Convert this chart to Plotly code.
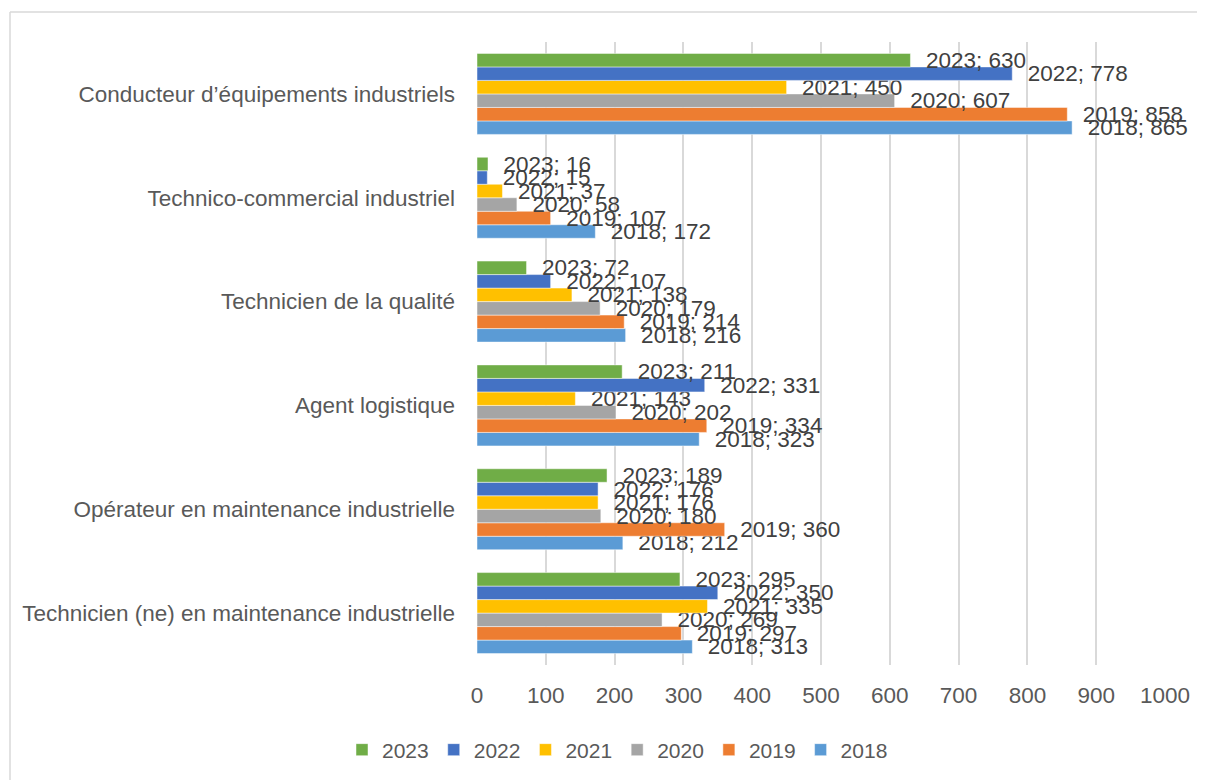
import plotly.graph_objects as go

categories = [
    "Conducteur d’équipements industriels",
    "Technico-commercial industriel",
    "Technicien de la qualité",
    "Agent logistique",
    "Opérateur en maintenance industrielle",
    "Technicien (ne) en maintenance industrielle",
]
years = ["2018", "2019", "2020", "2021", "2022", "2023"]
values = {
    "2023": [630, 16, 72, 211, 189, 295],
    "2022": [778, 15, 107, 331, 176, 350],
    "2021": [450, 37, 138, 143, 176, 335],
    "2020": [607, 58, 179, 202, 180, 269],
    "2019": [858, 107, 214, 334, 360, 297],
    "2018": [865, 172, 216, 323, 212, 313],
}
colors = {
    "2023": "#70AD47",
    "2022": "#4472C4",
    "2021": "#FFC000",
    "2020": "#A5A5A5",
    "2019": "#ED7D31",
    "2018": "#5B9BD5",
}
x_ticks = [0, 100, 200, 300, 400, 500, 600, 700, 800, 900, 1000]

FONT = "Liberation Sans"
FS = 22.5
# page body has an 8px default margin; figure is sized/offset to compensate
OFF = 8
W, H = 1205 - OFF, 780 - OFF
L, T = 477 - OFF, 42 - OFF
pw, ph = 688, 623
R = W - L - pw
B = H - T - ph

fig = go.Figure()
for yr in years:
    fig.add_trace(go.Bar(
        name=yr,
        y=categories,
        x=values[yr],
        orientation="h",
        marker=dict(color=colors[yr], line=dict(color="rgba(255,255,255,0.6)", width=0.8)),
        text=[f"\u00a0\u00a0{yr}; {v}" for v in values[yr]],
        textposition="outside",
        textfont=dict(family=FONT, size=FS, color="#404040"),
        constraintext="none",
        cliponaxis=False,
        hoverinfo="skip",
    ))


def px_x(p):
    # p in page pixels
    return (p - OFF - L) / pw


def px_y(p):
    return (T + ph - (p - OFF)) / ph


fig.update_layout(
    width=W, height=H,
    margin=dict(l=L, r=R, t=T, b=B, autoexpand=False),
    barmode="group",
    bargap=0.22,
    bargroupgap=0,
    plot_bgcolor="white",
    paper_bgcolor="white",
    font=dict(family=FONT, size=FS, color="#595959"),
    showlegend=True,
    legend=dict(
        orientation="h",
        traceorder="reversed",
        x=px_x(342), xanchor="left",
        y=px_y(750), yanchor="middle",
        font=dict(family=FONT, size=21, color="#595959"),
        itemwidth=30,
        bgcolor="rgba(0,0,0,0)",
    ),
    xaxis=dict(
        range=[0, 1000],
        tickvals=x_ticks,
        ticktext=[str(v) for v in x_ticks],
        showgrid=True,
        gridcolor="#D9D9D9",
        gridwidth=1.5,
        zeroline=False,
        showline=False,
        ticks="",
        ticklabelstandoff=14,
        tickfont=dict(family=FONT, size=FS, color="#595959"),
        fixedrange=True,
    ),
    yaxis=dict(
        categoryorder="array",
        categoryarray=categories[::-1],
        showgrid=False,
        zeroline=False,
        showline=False,
        ticks="",
        ticklabelstandoff=21,
        tickfont=dict(family=FONT, size=FS, color="#595959"),
        fixedrange=True,
    ),
    shapes=[
        dict(type="line", xref="paper", yref="paper",
             x0=px_x(10), x1=px_x(1205), y0=px_y(12), y1=px_y(12),
             line=dict(color="#D9D9D9", width=1.5)),
        dict(type="line", xref="paper", yref="paper",
             x0=px_x(10), x1=px_x(10), y0=px_y(12), y1=px_y(780),
             line=dict(color="#D9D9D9", width=1.5)),
    ],
)

fig.write_html("out.html")
